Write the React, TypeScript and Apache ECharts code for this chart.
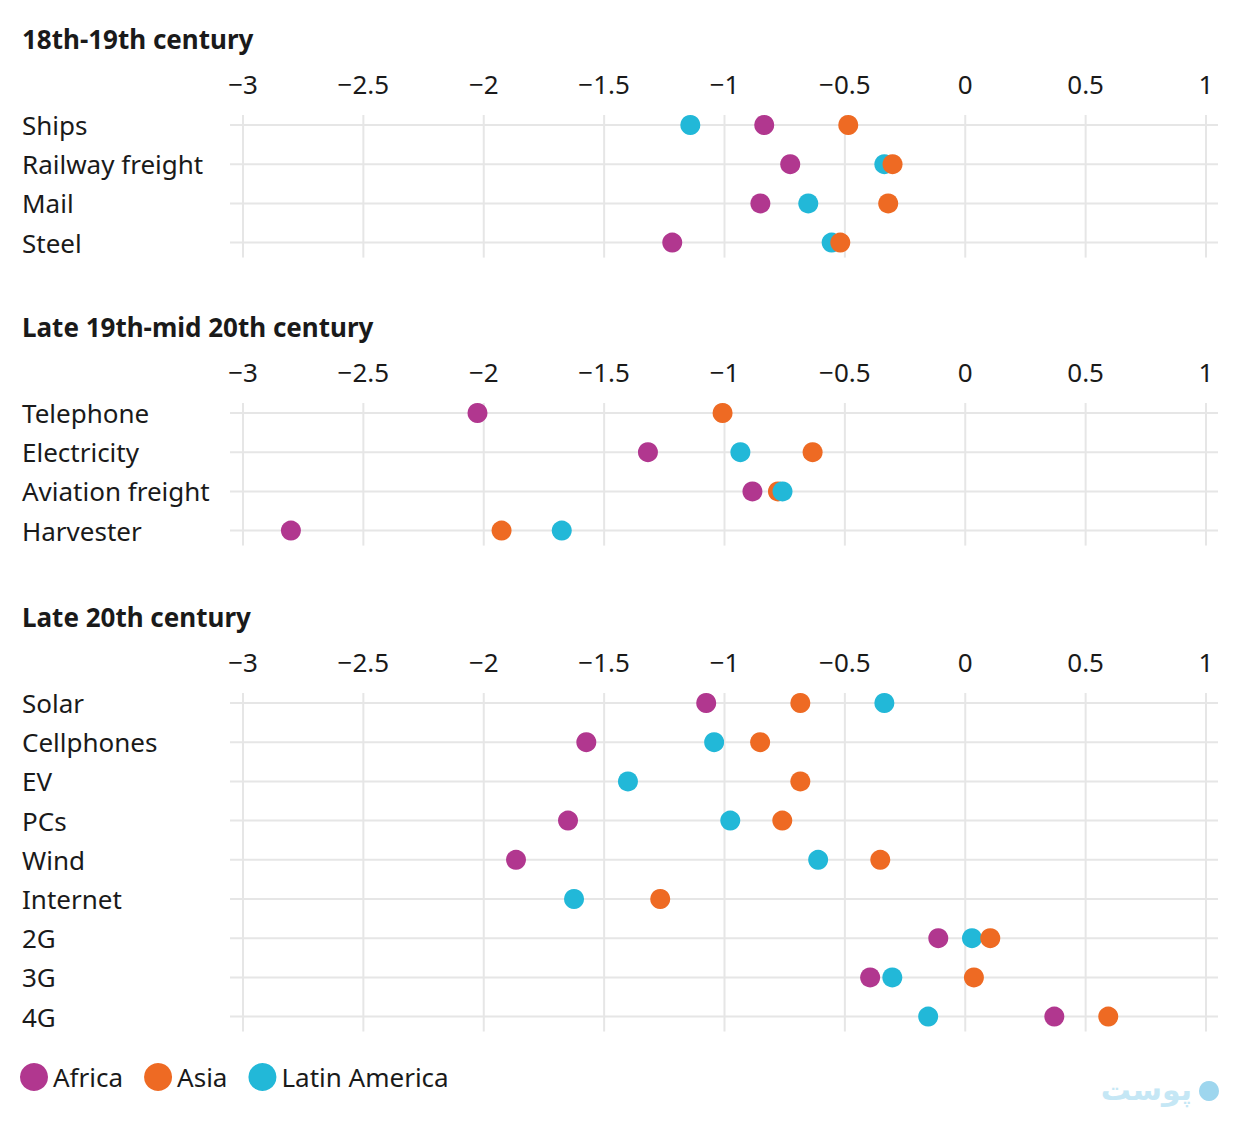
import React, { useEffect, useRef } from "react";
import * as echarts from "echarts";

const panelTitles = ["18th-19th century", "Late 19th-mid 20th century", "Late 20th century"];

const panel1Categories = ["Ships", "Railway freight", "Mail", "Steel"];
const panel1Africa = [-0.835, -0.727, -0.851, -1.217];
const panel1Asia = [-0.486, -0.302, -0.32, -0.519];
const panel1LatAm = [-1.142, -0.336, -0.652, -0.555];

const panel2Categories = ["Telephone", "Electricity", "Aviation freight", "Harvester"];
const panel2Africa = [-2.026, -1.318, -0.884, -2.801];
const panel2Asia = [-1.008, -0.634, -0.778, -1.926];
const panel2LatAm = [null, -0.934, -0.759, -1.676];

const panel3Categories = ["Solar", "Cellphones", "EV", "PCs", "Wind", "Internet", "2G", "3G", "4G"];
const panel3Africa = [-1.076, -1.574, null, -1.65, -1.866, null, -0.112, -0.395, 0.37];
const panel3Asia = [-0.685, -0.852, -0.685, -0.76, -0.353, -1.267, 0.104, 0.036, 0.594];
const panel3LatAm = [-0.336, -1.043, -1.401, -0.976, -0.611, -1.625, 0.028, -0.303, -0.154];

const xTicks = [-3, -2.5, -2, -1.5, -1, -0.5, 0, 0.5, 1];

const regionNames = ["Africa", "Asia", "Latin America"];
const regionColors = ["#b1378f", "#ee6a23", "#22b8d8"];

const panels = [
  { cats: panel1Categories, values: [panel1Africa, panel1Asia, panel1LatAm] },
  { cats: panel2Categories, values: [panel2Africa, panel2Asia, panel2LatAm] },
  { cats: panel3Categories, values: [panel3Africa, panel3Asia, panel3LatAm] },
];

const panelTops = [125, 413, 703];
const rowStep = 39.2;
const FONT = "'Noto Sans', 'Open Sans', sans-serif";
const FS = 26;
const TEXT = "#1a1a1a";
const GRIDC = "#e6e6e6";

function fmt(v: number) {
  return v < 0 ? "\u2212" + String(Math.abs(v)) : String(v);
}

export default function App() {
  const ref = useRef<HTMLDivElement>(null);
  useEffect(() => {
    document.body.style.margin = "0";
    const chart = echarts.init(ref.current!, null, { renderer: "svg" });

    const grids: any[] = [];
    const xAxes: any[] = [];
    const yAxes: any[] = [];
    const series: any[] = [];
    const titles: any[] = [];

    panels.forEach((p, pi) => {
      const n = p.cats.length;
      grids.push({
        left: 243,
        width: 963,
        top: panelTops[pi],
        height: (n - 1) * rowStep,
        containLabel: false,
        outerBoundsMode: "none",
      });
      titles.push({
        text: panelTitles[pi],
        left: 22,
        top: panelTops[pi] - 99,
        padding: 0,
        textStyle: { fontFamily: FONT, fontSize: FS, fontWeight: "bold", color: TEXT },
      });
      xAxes.push({
        gridIndex: pi,
        type: "value",
        position: "top",
        min: -3,
        max: 1,
        interval: 0.5,
        axisLine: { show: false },
        axisTick: { show: false },
        splitLine: { show: false },
        axisLabel: {
          margin: 28,
          fontFamily: FONT,
          fontSize: FS,
          color: TEXT,
          formatter: (v: number) => fmt(v),
        },
      });
      yAxes.push({
        gridIndex: pi,
        type: "category",
        data: p.cats,
        inverse: true,
        boundaryGap: false,
        axisLine: { show: false },
        axisTick: { show: false },
        splitLine: { show: false },
        axisLabel: {
          align: "left",
          margin: 221,
          fontFamily: FONT,
          fontSize: FS,
          color: TEXT,
          padding: [0, 0, 5, 0],
        },
      });
      // horizontal row lines
      series.push({
        type: "custom",
        xAxisIndex: pi,
        yAxisIndex: pi,
        silent: true,
        z: 1,
        data: p.cats.map((_, i) => [0, i]),
        renderItem: (params: any, api: any) => {
          const y = api.coord([0, api.value(1)])[1];
          const cs = params.coordSys;
          return {
            type: "line",
            shape: { x1: cs.x - 13, y1: y, x2: cs.x + cs.width + 12, y2: y },
            style: { stroke: GRIDC, lineWidth: 2 },
          };
        },
      });
      // vertical grid lines
      series.push({
        type: "custom",
        xAxisIndex: pi,
        yAxisIndex: pi,
        silent: true,
        z: 1,
        data: xTicks.map((v) => [v, 0]),
        renderItem: (params: any, api: any) => {
          const x = api.coord([api.value(0), 0])[0];
          const y1 = api.coord([api.value(0), 0])[1] - 10;
          const y2 = api.coord([api.value(0), n - 1])[1] + 15;
          return {
            type: "line",
            shape: { x1: x, y1, x2: x, y2 },
            style: { stroke: GRIDC, lineWidth: 2 },
          };
        },
      });
      // dots, sorted per row so rightmost dot is drawn on top
      const dots: any[] = [];
      p.cats.forEach((_, ri) => {
        const row: { v: number; r: number }[] = [];
        p.values.forEach((arr, r) => {
          const v = arr[ri];
          if (v !== null && v !== undefined) row.push({ v, r });
        });
        row.sort((a, b) => a.v - b.v);
        row.forEach((d) =>
          dots.push({
            name: regionNames[d.r],
            value: [d.v, ri],
            itemStyle: { color: regionColors[d.r], opacity: 1 },
          })
        );
      });
      series.push({
        type: "scatter",
        xAxisIndex: pi,
        yAxisIndex: pi,
        symbol: "circle",
        symbolSize: 20,
        z: 3,
        silent: true,
        itemStyle: { opacity: 1 },
        data: dots,
      });
    });

    // legend series (no data)
    regionNames.forEach((nm, i) => {
      series.push({
        type: "scatter",
        name: nm,
        xAxisIndex: 0,
        yAxisIndex: 0,
        data: [],
        itemStyle: { color: regionColors[i], opacity: 1 },
      });
    });

    chart.setOption({
      animation: false,
      backgroundColor: "#ffffff",
      title: titles,
      grid: grids,
      xAxis: xAxes,
      yAxis: yAxes,
      series,
      legend: {
        data: regionNames,
        left: 20,
        top: 1063,
        padding: 0,
        icon: "circle",
        itemWidth: 28,
        itemHeight: 28,
        itemGap: 21,
        textStyle: { fontFamily: FONT, fontSize: FS, color: TEXT },
        selectedMode: false,
      },
      graphic: [
        {
          type: "text",
          right: 48,
          top: 1074,
          silent: true,
          style: {
            text: "پوست",
            fill: "#c5e7f5",
            font: "bold 30px 'DejaVu Sans', sans-serif",
          },
        },
        {
          type: "circle",
          shape: { cx: 1209, cy: 1091, r: 10 },
          silent: true,
          style: { fill: "#9ed6ee" },
        },
      ],
    });
    return () => chart.dispose();
  }, []);
  return <div ref={ref} style={{ width: 1240, height: 1122 }} />;
}
